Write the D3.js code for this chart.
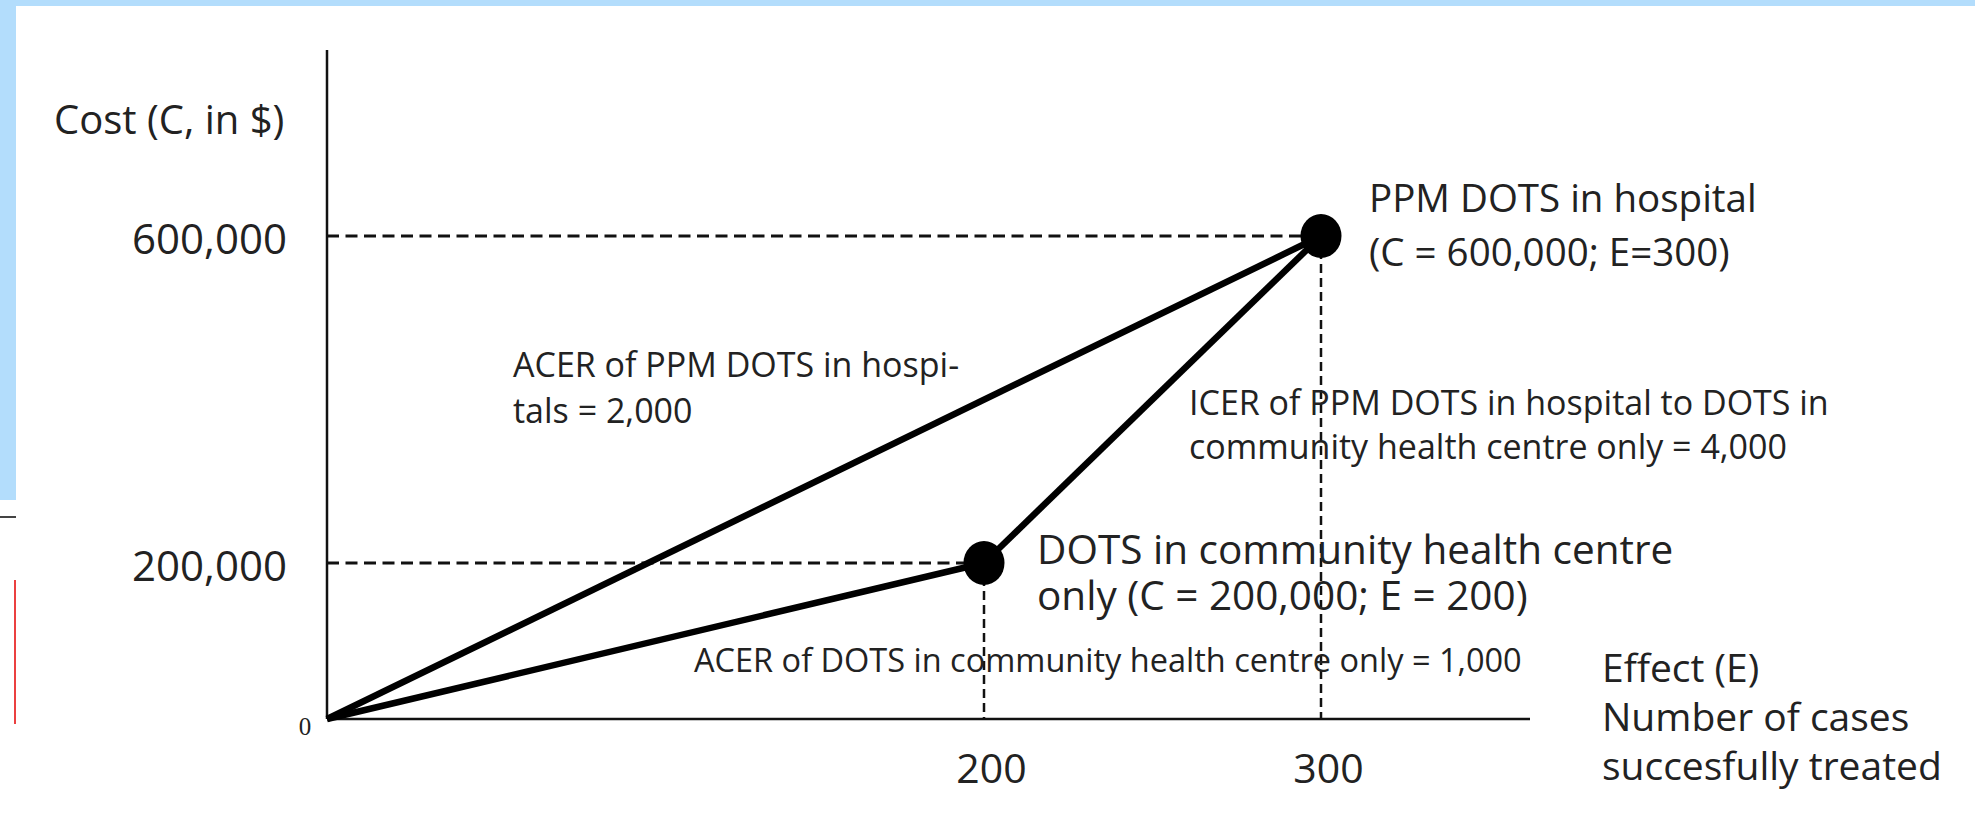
<!DOCTYPE html>
<html>
<head>
<meta charset="utf-8">
<script src="https://cdn.jsdelivr.net/npm/d3@7"></script>
<style>
  body { margin: 0; background: #fff; }
  svg { display: block; }
  text { font-family: "Open Sans", sans-serif; fill: #222; }
</style>
</head>
<body>
<script>
// options compared (effect = cases treated, cost in $)
var optionNames = ["DOTS in community health centre only", "PPM DOTS in hospital"];
var effects = [200, 300];
var costs = [200000, 600000];

var costTicks = [200000, 600000];
var effectTicks = [200, 300];

// which points get joined: -1 is the origin
var segments = [[-1, 1], [-1, 0], [0, 1]];

var width = 1975, height = 813;
var fmt = d3.format(",");

var svg = d3.select("body").append("svg")
  .attr("width", width)
  .attr("height", height);

// the figure isn't drawn to scale, so use piecewise scales through the marked values
var x = d3.scaleLinear().domain([0, 200, 300]).range([327, 984, 1321]);
var y = d3.scaleLinear().domain([0, 200000, 600000]).range([719, 563, 236]);

var yTop = 50, xRight = 1530;

// page decoration left over from the source page
svg.append("rect").attr("x", 0).attr("y", 0).attr("width", width).attr("height", 6).attr("fill", "#b3ddfc");
svg.append("rect").attr("x", 0).attr("y", 0).attr("width", 16).attr("height", 500).attr("fill", "#b3ddfc");
svg.append("line").attr("x1", 0).attr("x2", 16).attr("y1", 517).attr("y2", 517)
  .attr("stroke", "#444").attr("stroke-width", 2);
svg.append("line").attr("x1", 15).attr("x2", 15).attr("y1", 580).attr("y2", 724)
  .attr("stroke", "#e40000").attr("stroke-width", 1.5);

// axes
svg.append("line")
  .attr("x1", x(0)).attr("x2", x(0))
  .attr("y1", yTop).attr("y2", y(0))
  .attr("stroke", "#111").attr("stroke-width", 2.5);
svg.append("line")
  .attr("x1", x(0)).attr("x2", xRight)
  .attr("y1", y(0)).attr("y2", y(0))
  .attr("stroke", "#111").attr("stroke-width", 2.5);

var yAxis = svg.append("g")
  .attr("transform", "translate(" + (x(0) - 37) + ",4)")
  .call(d3.axisLeft(y).tickValues(costTicks).tickSize(0).tickFormat(fmt));
yAxis.select(".domain").remove();
yAxis.selectAll("text")
  .style("font-family", "'Open Sans', sans-serif")
  .style("font-size", "42px")
  .attr("fill", "#222");

var xAxis = svg.append("g")
  .attr("transform", "translate(7," + 768 + ")")
  .call(d3.axisBottom(x).tickValues(effectTicks).tickSize(0));
xAxis.select(".domain").remove();
xAxis.selectAll("text")
  .attr("y", 0)
  .attr("dy", "0.36em")
  .style("font-family", "'Open Sans', sans-serif")
  .style("font-size", "41px")
  .attr("fill", "#222");

// zero at the corner
svg.append("text")
  .attr("x", x(0) - 22).attr("y", y(0) + 16)
  .attr("text-anchor", "middle")
  .style("font-family", "'Liberation Serif', serif")
  .style("font-size", "25px")
  .text("0");

// dashed guides to each point
effects.forEach(function(e, i) {
  svg.append("line")
    .attr("x1", x(0)).attr("x2", x(e))
    .attr("y1", y(costs[i])).attr("y2", y(costs[i]))
    .attr("stroke", "#111").attr("stroke-width", 3)
    .attr("stroke-dasharray", "12,6.5");
  svg.append("line")
    .attr("x1", x(e)).attr("x2", x(e))
    .attr("y1", y(costs[i])).attr("y2", y(0))
    .attr("stroke", "#111").attr("stroke-width", 2.5)
    .attr("stroke-dasharray", "9,5");
});

// solid cost-effect lines
function px(i) { return i < 0 ? x(0) : x(effects[i]); }
function py(i) { return i < 0 ? y(0) : y(costs[i]); }

svg.selectAll(".seg")
  .data(segments)
  .enter().append("line")
  .attr("class", "seg")
  .attr("x1", function(d) { return px(d[0]); })
  .attr("y1", function(d) { return py(d[0]); })
  .attr("x2", function(d) { return px(d[1]); })
  .attr("y2", function(d) { return py(d[1]); })
  .attr("stroke", "#000")
  .attr("stroke-width", 6.5);

svg.selectAll(".dot")
  .data(effects)
  .enter().append("ellipse")
  .attr("class", "dot")
  .attr("cx", function(d) { return x(d); })
  .attr("cy", function(d, i) { return y(costs[i]); })
  .attr("rx", 20.5)
  .attr("ry", 22)
  .attr("fill", "#000");

// text helper: one line per entry
function label(xPos, yPos, lines, size, gap) {
  var t = svg.append("text")
    .attr("x", xPos).attr("y", yPos)
    .style("font-size", size + "px");
  lines.forEach(function(l, i) {
    t.append("tspan").attr("x", xPos).attr("dy", i === 0 ? 0 : gap).text(l);
  });
  return t;
}

// axis titles
label(54, 134, ["Cost (C, in $)"], 40, 0);
label(1602, 682, ["Effect (E)", "Number of cases", "succesfully treated"], 39, 49);

// point labels
label(1369, 212, ["PPM DOTS in hospital", "(C = " + fmt(costs[1]) + "; E=" + effects[1] + ")"], 38.5, 54);
label(1037, 564, ["DOTS in community health centre",
  "only (C = " + fmt(costs[0]) + "; E = " + effects[0] + ")"], 40.5, 46);

// ratio annotations
var acerHosp = costs[1] / effects[1];
var acerComm = costs[0] / effects[0];
var icer = (costs[1] - costs[0]) / (effects[1] - effects[0]);

label(513, 377, ["ACER of PPM DOTS in hospi-", "tals = " + fmt(acerHosp)], 34, 46);
label(1189, 415, ["ICER of PPM DOTS in hospital to DOTS in",
  "community health centre only = " + fmt(icer)], 34, 44);
label(694, 672, ["ACER of DOTS in community health centre only = " + fmt(acerComm)], 32.5, 0);
</script>
</body>
</html>
